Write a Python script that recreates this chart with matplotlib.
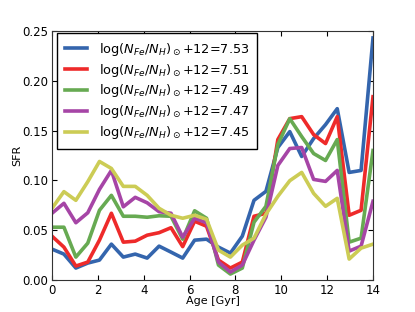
import matplotlib
matplotlib.use("Agg")
import matplotlib.pyplot as plt

# ages of the bins [Gyr]
ages = [0.0, 0.52, 1.04, 1.56, 2.07, 2.59, 3.11, 3.63, 4.15, 4.67, 5.19, 5.70, 6.22, 6.74,
        7.26, 7.78, 8.30, 8.81, 9.33, 9.85, 10.37, 10.89, 11.41, 11.93, 12.44, 12.96, 13.48, 14.0]

sfr_753 = [0.031, 0.026, 0.012, 0.017, 0.020, 0.036, 0.023, 0.026, 0.022, 0.034, 0.028, 0.022, 0.040, 0.041,
           0.033, 0.027, 0.044, 0.080, 0.089, 0.133, 0.149, 0.124, 0.142, 0.156, 0.172, 0.108, 0.110, 0.243]
sfr_751 = [0.044, 0.033, 0.014, 0.018, 0.040, 0.067, 0.038, 0.039, 0.045, 0.0475, 0.0525, 0.0335, 0.059, 0.054,
           0.020, 0.012, 0.018, 0.064, 0.067, 0.141, 0.162, 0.164, 0.146, 0.137, 0.164, 0.065, 0.070, 0.184]
sfr_749 = [0.053, 0.053, 0.023, 0.037, 0.070, 0.085, 0.064, 0.064, 0.063, 0.0645, 0.064, 0.041, 0.0695, 0.062,
           0.015, 0.006, 0.012, 0.058, 0.074, 0.136, 0.162, 0.144, 0.127, 0.120, 0.141, 0.038, 0.042, 0.130]
sfr_747 = [0.067, 0.077, 0.0575, 0.0675, 0.091, 0.110, 0.0735, 0.083, 0.0775, 0.0686, 0.067, 0.043, 0.062, 0.0575,
           0.018, 0.008, 0.015, 0.040, 0.063, 0.115, 0.132, 0.133, 0.101, 0.099, 0.110, 0.029, 0.034, 0.079]
sfr_745 = [0.072, 0.0887, 0.080, 0.0987, 0.119, 0.112, 0.094, 0.094, 0.085, 0.072, 0.065, 0.062, 0.065, 0.061,
           0.030, 0.023, 0.035, 0.042, 0.066, 0.084, 0.0997, 0.108, 0.087, 0.074, 0.082, 0.021, 0.032, 0.036]

metal = ["7.53", "7.51", "7.49", "7.47", "7.45"]
series = [sfr_753, sfr_751, sfr_749, sfr_747, sfr_745]
colors = ["#3465ad", "#ee2a2a", "#67aa52", "#a645a6", "#cccc55"]

fig = plt.figure(figsize=(4.15, 3.12), dpi=100)
ax = fig.add_axes([52/415, 32/312, 321/415, 249/312])

for s, m, c in zip(series, metal, colors):
    ax.plot(ages, s, color=c, lw=2.6, label=r"$\log(N_{Fe}/N_H)_\odot$+12=" + m)

ax.set_xlim(0, 14)
ax.set_ylim(0, 0.25)
ax.set_xticks([0, 2, 4, 6, 8, 10, 12, 14])
ax.set_yticks([0.0, 0.05, 0.10, 0.15, 0.20, 0.25])
ax.set_yticklabels(["0.00", "0.05", "0.10", "0.15", "0.20", "0.25"])
ax.tick_params(direction="in", top=True, right=True, labelsize=8.5, pad=3)
for sp in ax.spines.values():
    sp.set_edgecolor("#333333")
ax.set_xlabel("Age [Gyr]", fontsize=8, labelpad=-1)
ax.set_ylabel("SFR", fontsize=8, labelpad=0)

leg = ax.legend(loc="upper left", fontsize=9.3, fancybox=False, framealpha=1,
                handlelength=1.7, handletextpad=0.93, borderpad=0.6, labelspacing=0.3,
                borderaxespad=0, bbox_to_anchor=(0.0156, 0.992))
leg.get_frame().set_edgecolor("black")

fig.savefig("out.png", dpi=100)
